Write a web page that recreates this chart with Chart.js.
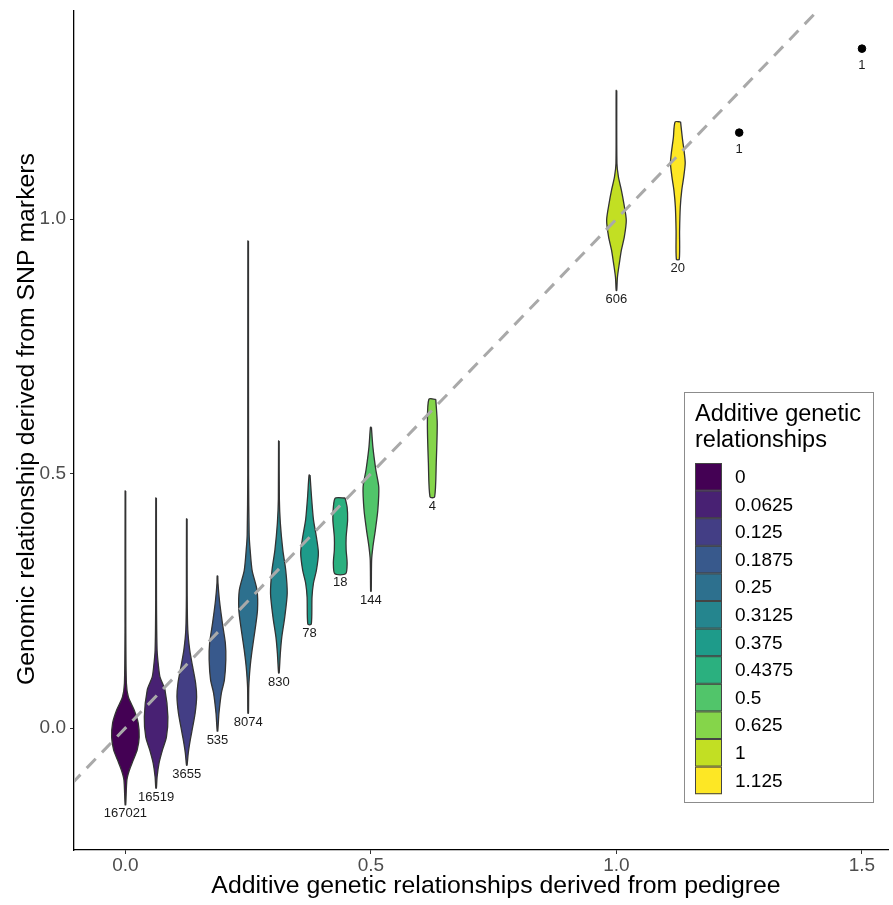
<!DOCTYPE html>
<html>
<head>
<meta charset="utf-8">
<script src="https://cdn.jsdelivr.net/npm/chart.js@4.4.1/dist/chart.umd.min.js"></script>
<style>
  html, body { margin: 0; padding: 0; background: #fff; }
</style>
</head>
<body>
<canvas id="chart" width="893" height="905"></canvas>
<script>
// pedigree relationship classes, one violin each
const groupLabels = ["0", "0.0625", "0.125", "0.1875", "0.25", "0.3125", "0.375", "0.4375", "0.5", "0.625", "1", "1.125"];
const groupX = [0, 0.0625, 0.125, 0.1875, 0.25, 0.3125, 0.375, 0.4375, 0.5, 0.625, 1, 1.125];
const groupCounts = [167021, 16519, 3655, 535, 8074, 830, 78, 18, 144, 4, 606, 20];
const groupColors = ["#440154", "#482173", "#433E85", "#38598C", "#2D708E", "#25858E",
                     "#1E9B8A", "#2BB07F", "#51C56A", "#85D54A", "#C2DF23", "#FDE725"];

// violin outlines: genomic value (top -> bottom)
const violinY = [
  [0.466, 0.20, 0.088, 0.061, 0.035, 0.010, -0.018, -0.043, -0.063, -0.083, -0.102, -0.151],
  [0.452, 0.25, 0.153, 0.120, 0.100, 0.075, 0.022, -0.018, -0.043, -0.069, -0.096, -0.118],
  [0.411, 0.26, 0.193, 0.153, 0.120, 0.088, 0.061, 0.029, 0.002, -0.024, -0.049, -0.073],
  [0.299, 0.285, 0.251, 0.206, 0.167, 0.134, 0.094, 0.069, 0.029, -0.006],
  [0.957, 0.50, 0.380, 0.350, 0.310, 0.271, 0.232, 0.193, 0.153, 0.120, 0.080, 0.029],
  [0.564, 0.45, 0.403, 0.350, 0.310, 0.265, 0.218, 0.179, 0.147, 0.108],
  [0.497, 0.454, 0.409, 0.375, 0.344, 0.310, 0.285, 0.257, 0.204],
  [0.452, 0.434, 0.409, 0.375, 0.350, 0.324, 0.303],
  [0.591, 0.552, 0.507, 0.473, 0.428, 0.389, 0.356, 0.330, 0.269],
  [0.646, 0.599, 0.521, 0.454],
  [1.253, 1.110, 1.083, 1.057, 1.031, 0.998, 0.965, 0.939, 0.914, 0.886, 0.860],
  [1.191, 1.161, 1.112, 1.083, 1.057, 1.024, 0.978, 0.921]
];
// half width of each violin at those values, in pedigree units
const violinHalfWidth = [
  [0.0006, 0.0008, 0.002, 0.006, 0.018, 0.026, 0.028, 0.024, 0.016, 0.008, 0.003, 0.0006],
  [0.0006, 0.0008, 0.002, 0.005, 0.008, 0.018, 0.024, 0.021, 0.013, 0.006, 0.002, 0.0006],
  [0.0006, 0.0008, 0.002, 0.006, 0.012, 0.018, 0.020, 0.017, 0.012, 0.007, 0.003, 0.0006],
  [0.0006, 0.001, 0.004, 0.010, 0.016, 0.017, 0.014, 0.008, 0.003, 0.0006],
  [0.0006, 0.0008, 0.002, 0.004, 0.008, 0.018, 0.019, 0.014, 0.008, 0.004, 0.0012, 0.0006],
  [0.0006, 0.001, 0.003, 0.008, 0.014, 0.017, 0.012, 0.006, 0.003, 0.0006],
  [0.001, 0.004, 0.008, 0.014, 0.018, 0.014, 0.008, 0.005, 0.0035],
  [0.010, 0.014, 0.015, 0.012, 0.012, 0.014, 0.011],
  [0.001, 0.004, 0.010, 0.016, 0.014, 0.009, 0.004, 0.0014, 0.0006],
  [0.007, 0.010, 0.008, 0.0047],
  [0.0006, 0.001, 0.004, 0.010, 0.015, 0.020, 0.016, 0.010, 0.006, 0.002, 0.0006],
  [0.0056, 0.009, 0.015, 0.012, 0.008, 0.005, 0.0036, 0.003]
];

// classes with a single pair
const singleX = [1.25, 1.5];
const singleY = [1.170, 1.335];
const singleCounts = [1, 1];

const xTickValues = [0, 0.5, 1, 1.5];
const yTickValues = [0, 0.5, 1];
const diagonal = [-0.11, 1.42];

const xTitle = "Additive genetic relationships derived from pedigree";
const yTitle = "Genomic relationship derived from SNP markers";

const FONT = "'Liberation Sans', Arial, sans-serif";

const violinSets = groupX.map((gx, i) => {
  const ys = violinY[i];
  const ws = violinHalfWidth[i];
  const right = ys.map((y, k) => ({x: gx + ws[k], y: y}));
  const left = ys.map((y, k) => ({x: gx - ws[k], y: y})).reverse();
  return {
    label: groupLabels[i],
    data: right.concat(left, [right[0]]),
    showLine: true,
    fill: "shape",
    backgroundColor: groupColors[i],
    borderColor: "#333333",
    borderWidth: 1.3,
    borderJoinStyle: "round",
    tension: 0.25,
    pointRadius: 0,
    order: 2
  };
});

// counts under each violin / point
const countLabels = {
  id: "countLabels",
  afterDatasetsDraw(chart) {
    const {ctx, scales: {x, y}} = chart;
    ctx.save();
    ctx.font = "13px " + FONT;
    ctx.fillStyle = "#1a1a1a";
    ctx.textAlign = "center";
    ctx.textBaseline = "middle";
    groupX.forEach((gx, i) => {
      const low = violinY[i][violinY[i].length - 1];
      ctx.fillText(String(groupCounts[i]), x.getPixelForValue(gx), y.getPixelForValue(low) + 9);
    });
    singleX.forEach((sx, i) => {
      ctx.fillText(String(singleCounts[i]), x.getPixelForValue(sx), y.getPixelForValue(singleY[i]) + 17);
    });
    ctx.restore();
  }
};

// axis titles (the original panel runs past the right edge, so the x title sits right of centre)
const axisTitles = {
  id: "axisTitles",
  afterDraw(chart) {
    const ctx = chart.ctx;
    ctx.save();
    ctx.fillStyle = "#000";
    ctx.font = "24.8px " + FONT;
    ctx.textAlign = "center";
    ctx.textBaseline = "middle";
    ctx.fillText(xTitle, 496, 886);
    ctx.translate(27, 419);
    ctx.rotate(-Math.PI / 2);
    ctx.fillText(yTitle, 0, 0);
    ctx.restore();
  }
};

// ggplot-style fill legend
const fillLegend = {
  id: "fillLegend",
  afterDraw(chart) {
    const ctx = chart.ctx;
    ctx.save();
    ctx.strokeStyle = "#8c8c8c";
    ctx.lineWidth = 1;
    ctx.strokeRect(684.5, 392.5, 189, 410);
    ctx.fillStyle = "#000";
    ctx.font = "23.5px " + FONT;
    ctx.textAlign = "left";
    ctx.textBaseline = "alphabetic";
    ctx.fillText("Additive genetic", 695, 421);
    ctx.fillText("relationships", 695, 447);
    ctx.font = "19px " + FONT;
    ctx.textBaseline = "middle";
    const h = 27.6;
    groupLabels.forEach((lab, i) => {
      const top = 463 + i * h;
      ctx.fillStyle = groupColors[i];
      ctx.fillRect(695, top, 27, h);
      ctx.strokeStyle = "#444";
      ctx.strokeRect(695.5, top + 0.5, 26, h - 1);
      ctx.fillStyle = "#000";
      ctx.fillText(lab, 735, top + h / 2 + 1);
    });
    ctx.restore();
  }
};

new Chart(document.getElementById("chart"), {
  type: "scatter",
  data: {
    datasets: [
      {
        label: "y = x",
        data: diagonal.map(v => ({x: v, y: v})),
        showLine: true,
        borderColor: "#a9a9a9",
        borderWidth: 3,
        borderDash: [13, 9],
        pointRadius: 0,
        fill: false,
        order: 0
      },
      {
        label: "single",
        data: singleX.map((sx, i) => ({x: sx, y: singleY[i]})),
        backgroundColor: "#000",
        borderColor: "#000",
        pointRadius: 3.8,
        order: 1
      }
    ].concat(violinSets)
  },
  options: {
    responsive: false,
    devicePixelRatio: 1,
    animation: false,
    layout: {padding: {top: 11, left: 0, right: 0, bottom: 0}},
    plugins: {legend: {display: false}, tooltip: {enabled: false}},
    scales: {
      x: {
        type: "linear",
        min: -0.1047,
        max: 1.553,
        afterBuildTicks: s => { s.ticks = xTickValues.map(v => ({value: v})); },
        afterFit: s => { s.height = 55; s.paddingLeft = 0; s.paddingRight = 0; },
        ticks: {
          callback: v => v.toFixed(1),
          color: "#4d4d4d",
          font: {family: FONT, size: 19},
          padding: 0,
          maxRotation: 0,
          autoSkip: false
        },
        grid: {drawOnChartArea: false, tickLength: 4, color: "#333"},
        border: {color: "#000", width: 1.3}
      },
      y: {
        type: "linear",
        min: -0.2397,
        max: 1.409,
        afterBuildTicks: s => { s.ticks = yTickValues.map(v => ({value: v})); },
        afterFit: s => { s.width = 74; s.paddingTop = 0; s.paddingBottom = 0; },
        ticks: {
          callback: v => v.toFixed(1),
          color: "#4d4d4d",
          font: {family: FONT, size: 19},
          padding: 4
        },
        grid: {drawOnChartArea: false, tickLength: 4, color: "#333"},
        border: {color: "#000", width: 1.3}
      }
    }
  },
  plugins: [countLabels, axisTitles, fillLegend]
});
</script>
</body>
</html>
